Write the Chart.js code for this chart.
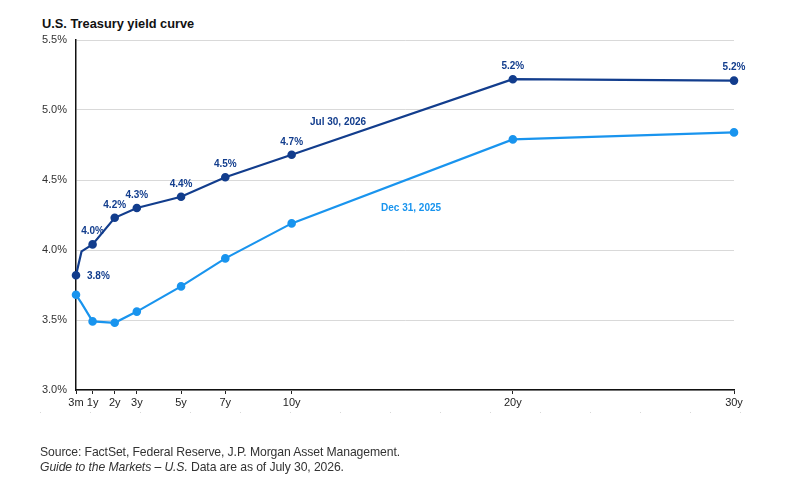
<!DOCTYPE html>
<html>
<head>
<meta charset="utf-8">
<script src="https://cdn.jsdelivr.net/npm/chart.js@4.4.1/dist/chart.umd.min.js"></script>
<style>
  html, body { margin: 0; padding: 0; background: #fff; }
  body { width: 792px; height: 491px; position: relative; overflow: hidden; font-family: "Liberation Sans", Arial, sans-serif; }
  #title { position: absolute; left: 42px; top: 16px; font-size: 12.8px; font-weight: bold; color: #111; }
  #wrap { position: absolute; left: 0; top: 0; width: 792px; height: 491px; }
  #sep { position: absolute; left: 40px; top: 412px; width: 750px; height: 1px;
         background: repeating-linear-gradient(to right, #d8d8d8 0 1px, transparent 1px 50px); }
  #foot { position: absolute; left: 40px; top: 445px; font-size: 12.2px; line-height: 15px; color: #333; letter-spacing: -0.1px; }
</style>
</head>
<body>
<div id="title">U.S. Treasury yield curve</div>
<div id="wrap"><canvas id="myChart" width="792" height="491"></canvas></div>
<div id="sep"></div>
<div id="foot">Source: FactSet, Federal Reserve, J.P. Morgan Asset Management.<br><i>Guide to the Markets – U.S.</i> Data are as of July 30, 2026.</div>
<script>
// maturities in years (6m is plotted but has no marker or tick)
const maturities = [0.25, 0.5, 1, 2, 3, 5, 7, 10, 20, 30];
const tickYears = [0.25, 1, 2, 3, 5, 7, 10, 20, 30];
const tickLabels = ["3m", "1y", "2y", "3y", "5y", "7y", "10y", "20y", "30y"];
const jul2026 = [3.82, 3.99, 4.04, 4.23, 4.30, 4.38, 4.52, 4.68, 5.22, 5.21];
const dec2025 = [3.68, 3.62, 3.49, 3.48, 3.56, 3.74, 3.94, 4.19, 4.79, 4.84];
const julLabels = ["3.8%", "", "4.0%", "4.2%", "4.3%", "4.4%", "4.5%", "4.7%", "5.2%", "5.2%"];
const yTicks = [3.0, 3.5, 4.0, 4.5, 5.0, 5.5];

const navy = '#123d8d';
const sky = '#1994ee';

function toPoints(vals) {
  return maturities.map((m, i) => ({ x: m, y: vals[i] }));
}
function radii() {
  return maturities.map(m => m === 0.5 ? 0 : 3.2);
}

const labelPlugin = {
  id: 'labels',
  afterDatasetsDraw(chart) {
    const c = chart.ctx;
    const meta = chart.getDatasetMeta(0);
    c.save();
    c.font = 'bold 10px "Liberation Sans", Arial, sans-serif';
    c.fillStyle = navy;
    c.textBaseline = 'middle';
    meta.data.forEach((pt, i) => {
      const t = julLabels[i];
      if (!t) return;
      if (i === 0) {
        c.textAlign = 'left';
        c.fillText(t, pt.x + 11, pt.y + 1);
      } else {
        c.textAlign = 'center';
        c.fillText(t, pt.x, pt.y - 13);
      }
    });
    // series names, anchored in data space
    const xs = chart.scales.x, ys = chart.scales.y;
    c.textAlign = 'center';
    c.fillStyle = navy;
    c.fillText('Jul 30, 2026', xs.getPixelForValue(12.1), ys.getPixelForValue(4.915));
    c.fillStyle = sky;
    c.fillText('Dec 31, 2025', xs.getPixelForValue(15.4), ys.getPixelForValue(4.30));
    c.restore();
  }
};

const ctx = document.getElementById('myChart');
new Chart(ctx, {
  type: 'line',
  data: {
    datasets: [{
      label: 'Jul 30, 2026',
      data: toPoints(jul2026),
      borderColor: navy,
      backgroundColor: navy,
      borderWidth: 2.2,
      pointRadius: radii(),
      pointHoverRadius: 0,
      tension: 0,
      clip: false
    }, {
      label: 'Dec 31, 2025',
      data: toPoints(dec2025),
      borderColor: sky,
      backgroundColor: sky,
      borderWidth: 2.2,
      pointRadius: radii(),
      pointHoverRadius: 0,
      tension: 0,
      clip: false
    }]
  },
  options: {
    responsive: false,
    animation: false,
    layout: { padding: { left: 0, right: 58, top: 40, bottom: 0 } },
    plugins: { legend: { display: false }, tooltip: { enabled: false } },
    scales: {
      x: {
        type: 'linear',
        min: 0.25,
        max: 30,
        afterBuildTicks(scale) {
          scale.ticks = tickYears.map(v => ({ value: v }));
        },
        afterFit(scale) { scale.height = 101; },
        ticks: {
          autoSkip: false,
          maxRotation: 0,
          padding: 2,
          color: '#222',
          font: { family: '"Liberation Sans Narrow", "Liberation Sans", Arial, sans-serif', size: 11 },
          callback: (v) => {
            const i = tickYears.indexOf(v);
            return i >= 0 ? tickLabels[i] : '';
          }
        },
        grid: { drawOnChartArea: false, drawTicks: true, tickLength: 4, color: '#222' },
        border: { color: '#111', width: 1.5 }
      },
      y: {
        min: 3.0,
        max: 5.5,
        afterBuildTicks(scale) {
          scale.ticks = yTicks.map(v => ({ value: v }));
        },
        afterFit(scale) { scale.width = 76; },
        ticks: {
          padding: 9,
          color: '#333',
          font: { family: '"Liberation Sans", Arial, sans-serif', size: 11 },
          callback: (v) => v.toFixed(1) + '%'
        },
        grid: { color: '#d9d9d9', lineWidth: 1, drawTicks: false },
        border: { color: '#111', width: 1.5 }
      }
    }
  },
  plugins: [labelPlugin]
});
</script>
</body>
</html>
